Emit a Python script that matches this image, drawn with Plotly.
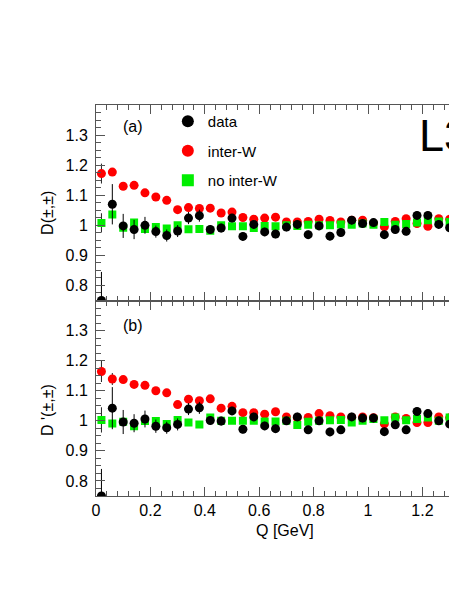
import plotly.graph_objects as go

# Q bin centres [GeV]
q = [0.02, 0.06, 0.10, 0.14, 0.18, 0.22, 0.26, 0.30, 0.34, 0.38, 0.42, 0.46,
     0.50, 0.54, 0.58, 0.62, 0.66, 0.70, 0.74, 0.78, 0.82, 0.86, 0.90, 0.94,
     0.98, 1.02, 1.06, 1.10, 1.14, 1.18, 1.22, 1.26, 1.30]

# Panel (a): D(±,±)
data_a = [0.75, 1.07, 0.998, 0.986, 1.0, 0.979, 0.966, 0.981, 1.024, 1.032, 0.986, 0.991,
          1.024, 0.963, 1.003, 0.978, 0.971, 0.994, 1.003, 0.969, 0.998, 0.964, 0.976, 1.017,
          1.006, 1.009, 0.969, 0.986, 0.98, 1.033, 1.033, 1.003, 0.992]
data_a_err = [0.095, 0.067, 0.04, 0.032, 0.028, 0.02, 0.02, 0.02, 0.02, 0.02, 0.015, 0.015,
              0.014, 0.014, 0.014, 0.014, 0.014, 0.014, 0.014, 0.014, 0.014, 0.014, 0.014, 0.014,
              0.014, 0.014, 0.014, 0.014, 0.014, 0.014, 0.014, 0.014, 0.014]
inter_a = [1.172, 1.177, 1.13, 1.133, 1.108, 1.094, 1.083, 1.052, 1.059, 1.056, 1.057, 1.041,
           1.044, 1.026, 1.02, 1.024, 1.027, 1.011, 1.011, 1.013, 1.02, 1.016, 1.011, 1.017,
           1.017, 1.006, 0.995, 1.013, 1.022, 1.006, 0.997, 1.022, 1.02]
inter_a_err = [0.033, 0.01] + [0.0] * 31
noint_a = [1.008, 1.036, 0.992, 1.009, 0.988, 0.994, 0.989, 1.0, 0.987, 0.988, 0.982, 1.0,
           0.997, 0.997, 0.991, 0.998, 0.997, 1.0, 0.998, 1.002, 1.0, 1.0, 1.003, 1.002,
           1.006, 1.002, 1.011, 1.002, 1.004, 1.009, 1.017, 1.013, 1.011]
noint_a_err = [0.032] + [0.0] * 32

# Panel (b): D'(±,±)
data_b = [0.75, 1.042, 0.996, 0.992, 1.006, 0.982, 0.977, 0.988, 1.039, 1.043, 1.001, 0.999,
          1.033, 0.972, 1.013, 0.983, 0.974, 1.0, 1.013, 0.97, 1.0, 0.963, 0.97, 1.013,
          1.009, 1.009, 0.964, 0.987, 0.97, 1.031, 1.024, 1.0, 0.989]
data_b_err = [0.09, 0.07, 0.04, 0.03, 0.028, 0.022, 0.02, 0.02, 0.02, 0.02, 0.015, 0.015,
              0.014, 0.014, 0.014, 0.014, 0.014, 0.014, 0.014, 0.014, 0.014, 0.014, 0.014, 0.014,
              0.014, 0.014, 0.014, 0.014, 0.014, 0.014, 0.014, 0.014, 0.014]
inter_b = [1.164, 1.139, 1.137, 1.121, 1.118, 1.1, 1.093, 1.054, 1.072, 1.067, 1.073, 1.042,
           1.048, 1.027, 1.027, 1.022, 1.03, 1.013, 1.01, 1.011, 1.024, 1.017, 1.013, 1.011,
           1.013, 1.01, 0.99, 1.013, 1.008, 0.994, 0.994, 1.013, 1.01]
inter_b_err = [0.035, 0.02] + [0.0] * 31
noint_b = [1.003, 0.991, 0.997, 0.982, 0.999, 0.999, 0.989, 1.003, 0.994, 0.988, 1.011, 1.0,
           1.0, 1.0, 1.0, 0.998, 0.998, 1.0, 0.986, 0.997, 1.0, 1.002, 1.003, 0.994,
           1.0, 1.006, 1.002, 1.011, 1.002, 1.006, 1.011, 1.0, 1.011]
noint_b_err = [0.042] + [0.0] * 32

x_tickvals = [0, 0.2, 0.4, 0.6, 0.8, 1.0, 1.2]
x_ticktext = ["0", "0.2", "0.4", "0.6", "0.8", "1", "1.2"]
y_tickvals = [0.8, 0.9, 1.0, 1.1, 1.2, 1.3]
y_ticktext = ["0.8", "0.9", "1", "1.1", "1.2", "1.3"]

FONT = "Liberation Sans, Arial, sans-serif"
AX = "#555555"

fig = go.Figure()


def add_panel(xa, ya, inter, inter_err, noint, noint_err, data, data_err, legend):
    fig.add_trace(go.Scatter(
        x=q, y=inter, mode="markers", name="inter-W", xaxis=xa, yaxis=ya,
        marker=dict(symbol="circle", size=9, color="#ff0000"),
        error_y=dict(type="data", array=inter_err, color="#222222", thickness=1, width=0),
        showlegend=legend, legendgroup="g2", legendrank=2))
    fig.add_trace(go.Scatter(
        x=q, y=noint, mode="markers", name="no inter-W", xaxis=xa, yaxis=ya,
        marker=dict(symbol="square", size=8, color="#00ee00"),
        error_y=dict(type="data", array=noint_err, color="#222222", thickness=1, width=0),
        showlegend=legend, legendgroup="g3", legendrank=3))
    fig.add_trace(go.Scatter(
        x=q, y=data, mode="markers", name="data", xaxis=xa, yaxis=ya,
        marker=dict(symbol="circle", size=9, color="black"),
        error_y=dict(type="data", array=data_err, color="black", thickness=1, width=0),
        showlegend=legend, legendgroup="g1", legendrank=1))


add_panel("x", "y", inter_a, inter_a_err, noint_a, noint_a_err, data_a, data_a_err, True)
add_panel("x2", "y2", inter_b, inter_b_err, noint_b, noint_b_err, data_b, data_b_err, False)

xcommon = dict(range=[0, 1.327], tickmode="array", tickvals=x_tickvals, ticktext=x_ticktext,
               ticks="inside", ticklen=9, tickcolor=AX, showline=True, linecolor=AX,
               linewidth=1, mirror="ticks", showgrid=False, zeroline=False,
               minor=dict(tickmode="linear", tick0=0, dtick=0.04, ticks="inside",
                          ticklen=5, tickcolor=AX),
               tickfont=dict(size=16, color="black", family=FONT))
ycommon = dict(range=[0.75, 1.4], tickmode="array", tickvals=y_tickvals, ticktext=y_ticktext,
               ticks="inside", ticklen=9, tickcolor=AX, showline=True, linecolor=AX,
               linewidth=1, showgrid=False, zeroline=False, ticklabelstandoff=4,
               minor=dict(tickmode="linear", tick0=0, dtick=0.025, ticks="inside",
                          ticklen=5, tickcolor=AX),
               tickfont=dict(size=16, color="black", family=FONT))


def note(text, x, y, size=16, **kw):
    d = dict(text=text, x=x, y=y, xref="paper", yref="paper", showarrow=False,
             xanchor="center", yanchor="middle", font=dict(size=size, family=FONT))
    d.update(kw)
    return d


fig.update_layout(
    width=449, height=583,
    margin=dict(l=88, r=0, t=97, b=95),
    paper_bgcolor="white", plot_bgcolor="white",
    font=dict(family=FONT, size=15, color="black"),
    xaxis=dict(xcommon, domain=[0, 1], anchor="y", showticklabels=False),
    yaxis=dict(ycommon, domain=[0.5, 1], anchor="x"),
    xaxis2=dict(xcommon, domain=[0, 1], anchor="y2", showticklabels=True),
    yaxis2=dict(ycommon, domain=[0, 0.5], anchor="x2"),
    legend=dict(x=0.199, y=1.0, xanchor="left", yanchor="top",
                bgcolor="rgba(0,0,0,0)", font=dict(size=15, family=FONT),
                tracegroupgap=7, itemsizing="constant"),
    annotations=[
        note("(a)", 0.1025, 0.944),
        note("(b)", 0.1025, 0.437),
        note("L3", 0.89, 0.921, size=45, xanchor="left"),
        note("Q [GeV]", (285 - 96) / 361, -0.087),
        note("D(±,±)", -0.133, 0.724, textangle=-90),
        note("D '(±,±)", -0.133, 0.22, textangle=-90),
    ],
)

fig.write_html("out.html")
